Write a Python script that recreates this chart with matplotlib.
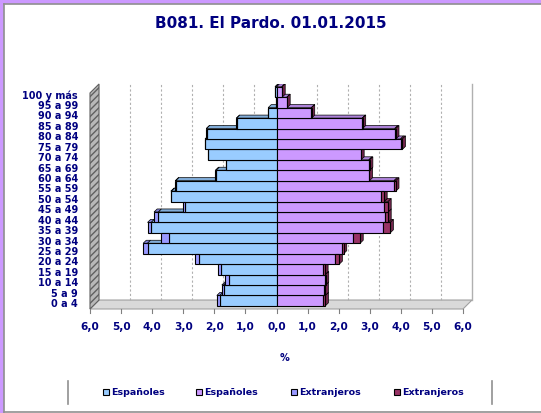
import numpy as np
import matplotlib
matplotlib.use('Agg')
import matplotlib.pyplot as plt
from matplotlib.patches import Polygon, Rectangle
from matplotlib.lines import Line2D
import matplotlib.transforms as mtransforms

# Datos (% de poblacion)
titulo = 'B081. El Pardo. 01.01.2015'
edades = ['0 a 4', '5 a 9', '10 a 14', '15 a 19', '20 a 24', '25 a 29', '30 a 34',
          '35 a 39', '40 a 44', '45 a 49', '50 a 54', '55 a 59', '60 a 64', '65 a 69',
          '70 a 74', '75 a 79', '80 a 84', '85 a 89', '90 a 94', '95 a 99', '100 y más']
hombres_esp = [1.82, 1.70, 1.54, 1.78, 2.49, 4.15, 3.46, 4.03, 3.80, 2.95, 3.38,
               3.24, 1.94, 1.63, 2.19, 2.29, 2.25, 1.28, 0.27, 0.02, 0.04]
hombres_ext = [0.10, 0.06, 0.11, 0.11, 0.12, 0.14, 0.27, 0.12, 0.14, 0.07, 0.02,
               0.02, 0.03, 0.01, 0.02, 0.01, 0.01, 0.01, 0.00, 0.00, 0.01]
mujeres_esp = [1.50, 1.53, 1.55, 1.50, 1.87, 2.10, 2.46, 3.43, 3.49, 3.46, 3.35,
               3.78, 2.97, 2.97, 2.71, 3.99, 3.80, 2.76, 1.12, 0.33, 0.17]
mujeres_ext = [0.07, 0.04, 0.03, 0.06, 0.15, 0.06, 0.23, 0.23, 0.10, 0.13, 0.11,
               0.06, 0.02, 0.03, 0.01, 0.06, 0.04, 0.01, 0.01, 0.01, 0.01]
leyenda = ['Españoles', 'Españoles', 'Extranjeros', 'Extranjeros']

# colores
c_h_esp = '#99CCFF'
c_m_esp = '#CC99FF'
c_h_ext = '#9999FF'
c_m_ext = '#993366'
azul = '#000080'

W, H = 541, 414
fig = plt.figure(figsize=(W / 100, H / 100), dpi=100)
fig.patch.set_facecolor('white')

def fx(x):
    return x / W

def fy(y):
    return 1 - y / H

# marco
fig.patches.append(Rectangle((0, fy(4)), 1, 4 / H, transform=fig.transFigure,
                             color='#CC99FF', zorder=0))
fig.patches.append(Rectangle((0, 0), 3 / W, 1, transform=fig.transFigure,
                             color='#CC99FF', zorder=0))
fig.lines.append(Line2D([fx(3.5), 1], [fy(4.5), fy(4.5)], transform=fig.transFigure,
                        color='#909090', lw=1.2))
fig.lines.append(Line2D([fx(3.5), fx(3.5)], [fy(4.5), fy(412.5)], transform=fig.transFigure,
                        color='#909090', lw=1.2))
fig.lines.append(Line2D([fx(3.5), 1], [fy(412.5), fy(412.5)], transform=fig.transFigure,
                        color='#909090', lw=1.2))

ax = fig.add_axes([fx(90), fy(310), 373 / W, 225 / H])
ybot, ytop = -0.8, 20.77
ax.set_xlim(-6, 6)
ax.set_ylim(ybot, ytop)
for s in ax.spines.values():
    s.set_visible(False)

y = np.arange(len(edades))
hm_esp = np.array(hombres_esp)
hm_ext = np.array(hombres_ext)
mj_esp = np.array(mujeres_esp)
mj_ext = np.array(mujeres_ext)

# fondo 3D: suelo, pared y rejilla
bx, by = 0.29, 0.86
suelo = Polygon([(-6, ybot), (6, ybot), (6 + bx, ybot + by), (-6 + bx, ybot + by)],
                closed=True, facecolor='#D9D9D9', edgecolor='#A0A0A0', lw=0.8,
                clip_on=False, zorder=0)
ax.add_patch(suelo)
pared = Polygon([(-6, ybot), (-6 + bx, ybot + by), (-6 + bx, ytop), (-6, ytop - by)],
                closed=True, facecolor='#B8B8B8', edgecolor='#606060', lw=0.8,
                hatch='/////', clip_on=False, zorder=0)
ax.add_patch(pared)
ax.plot([6 + bx, 6 + bx], [ybot + by, ytop], color='#B0B0B0', lw=1, clip_on=False, zorder=0)
for g in range(-5, 6):
    if g == 0:
        continue
    ax.plot([g + bx, g + bx], [ybot + by, ytop], color='#B0B0B0', lw=0.8,
            ls=(0, (2, 2)), clip_on=False, zorder=0)
for t in range(-6, 7):
    ax.plot([t, t], [ybot, ybot - 0.4], color='#808080', lw=0.8, clip_on=False, zorder=1)

# caras superiores y laterales (efecto 3D)
d, e = 0.1, 0.29

def oscuro(c, f=0.7):
    rgb = np.array(matplotlib.colors.to_rgb(c))
    return tuple(rgb * f)

for i in y:
    segs = [(-(hm_esp[i] + hm_ext[i]), -hm_esp[i], c_h_ext),
            (-hm_esp[i], 0, c_h_esp),
            (0, mj_esp[i], c_m_esp),
            (mj_esp[i], mj_esp[i] + mj_ext[i], c_m_ext)]
    for x0, x1, c in segs:
        if x1 - x0 <= 0:
            continue
        ax.add_patch(Polygon([(x0, i + 0.5), (x1, i + 0.5), (x1 + d, i + 0.5 + e),
                              (x0 + d, i + 0.5 + e)], closed=True, facecolor=oscuro(c, 0.85),
                             edgecolor='black', lw=0.5, zorder=1))
    xr = mj_esp[i] + mj_ext[i]
    ax.add_patch(Polygon([(xr, i - 0.5), (xr + d, i - 0.5 + e), (xr + d, i + 0.5 + e),
                          (xr, i + 0.5)], closed=True, facecolor=oscuro(c_m_ext, 0.75),
                         edgecolor='black', lw=0.5, zorder=1))

# barras
ax.barh(y, -hm_esp, height=1.0, color=c_h_esp, edgecolor='black', lw=0.8, zorder=3)
ax.barh(y, -hm_ext, left=-hm_esp, height=1.0, color=c_h_ext, edgecolor='black', lw=0.8, zorder=3)
ax.barh(y, mj_esp, height=1.0, color=c_m_esp, edgecolor='black', lw=0.8, zorder=3)
ax.barh(y, mj_ext, left=mj_esp, height=1.0, color=c_m_ext, edgecolor='black', lw=0.8, zorder=3)

# ejes
fuente = dict(family='DejaVu Sans', weight='bold', color=azul)
ax.set_yticks(y)
ax.set_yticklabels(edades, fontsize=7.0, **fuente)
ax.tick_params(axis='y', length=0, pad=8.6)
desp = mtransforms.ScaledTranslation(0, -1.5 / 100, fig.dpi_scale_trans)
for lab in ax.get_yticklabels():
    lab.set_transform(lab.get_transform() + desp)
ticks = np.arange(-6, 7)
ax.set_xticks(ticks)
ax.set_xticklabels([('%.1f' % abs(t)).replace('.', ',') for t in ticks], fontsize=7.6, **fuente)
ax.tick_params(axis='x', length=0, pad=8.5)

fig.text(fx(284), fy(358), '%', ha='center', va='center', fontsize=7, **fuente)
fig.text(fx(271), fy(24), titulo, ha='center', va='center', fontsize=11, **fuente)

# leyenda
fig.lines.append(Line2D([fx(68), fx(68)], [fy(382), fy(405)], transform=fig.transFigure,
                        color='#909090', lw=1.2))
fig.lines.append(Line2D([fx(492), fx(492)], [fy(382), fy(405)], transform=fig.transFigure,
                        color='#909090', lw=1.2))
ley_x = [103, 196, 291, 394]
ley_c = [c_h_esp, c_m_esp, c_h_ext, c_m_ext]
for lx, lc, lt in zip(ley_x, ley_c, leyenda):
    fig.patches.append(Rectangle((fx(lx), fy(396)), 6 / W, 6 / H, transform=fig.transFigure,
                                 facecolor=lc, edgecolor='black', lw=0.8))
    fig.text(fx(lx + 8), fy(393), lt, ha='left', va='center', fontsize=6.8, **fuente)

fig.savefig('out.png', dpi=100)
